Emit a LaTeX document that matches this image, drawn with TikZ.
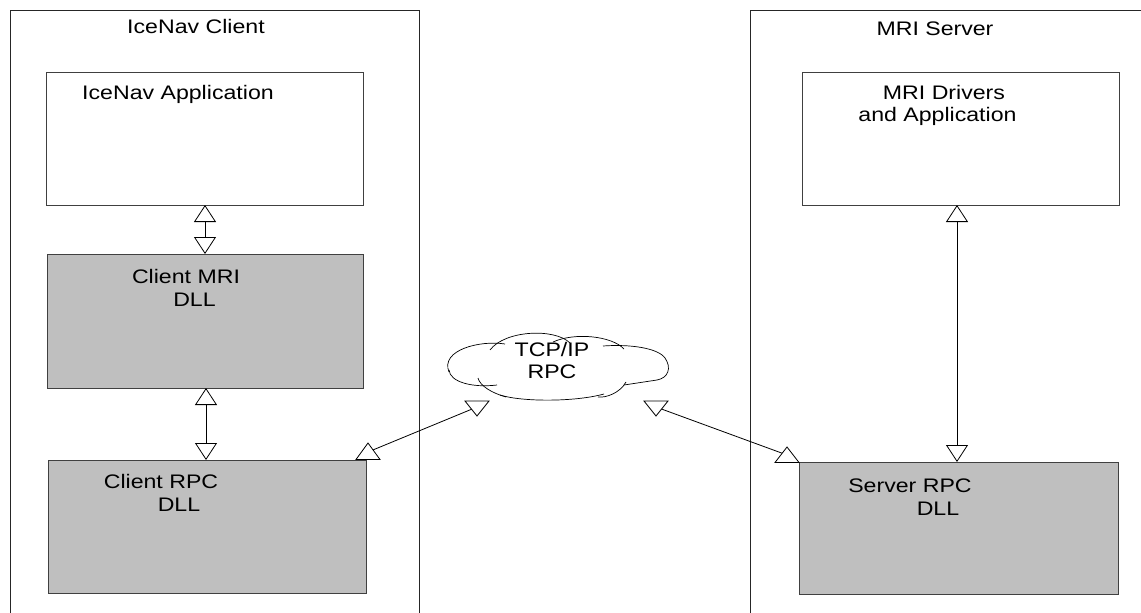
\documentclass[tikz,border=0pt]{standalone}
\usepackage{fontspec}
\setmainfont{Liberation Sans}[FakeStretch=1.18]
\usetikzlibrary{arrows.meta,shadows}

\begin{document}
\begin{tikzpicture}[x=1pt,y=-1pt,
  font=\fontsize{19.6}{22.5}\selectfont,
  frame/.style={draw=black!85,line width=0.9pt},
  block/.style={draw=black!75,line width=0.9pt,fill=white,
    drop shadow={shadow xshift=1pt,shadow yshift=-1pt,fill=black!55,opacity=1}},
  grayblock/.style={block,fill=black!25},
  lbl/.style={anchor=base,inner sep=0pt},
  link/.style={line width=0.8pt,draw=black},
  biarrow/.style={link,{Triangle[open,width=22pt,length=17pt]}-{Triangle[open,width=22pt,length=17pt]}},
  head/.style={draw=black,line width=0.8pt,fill=white},
  puff/.style={draw=black,line width=0.7pt}
]
\useasboundingbox (0,0) rectangle (1141,613);

% outer containers (open at the bottom edge)
\draw[frame] (10,625) -- (10,10) -- (419,10) -- (419,625);
\draw[frame] (750,625) -- (750,10) -- (1160,10);

\node[lbl] (tclient) at (196,33) {IceNav Client};
\node[lbl] (tserver) at (935,35) {MRI Server};

% client stack
\path[block] (46,72) rectangle (363,205);
\coordinate (app-s) at (205,205);
\node[lbl] (tapp) at (178,99) {IceNav Application};

\path[grayblock] (47,254) rectangle (363,388);
\coordinate (cmri-n) at (205,254);
\coordinate (cmri-s) at (206,388);
\node[lbl] (tcmri1) at (186,283) {Client MRI};
\node[lbl] (tcmri2) at (194.5,306) {DLL};

\path[grayblock] (48,460) rectangle (366,593);
\coordinate (crpc-n) at (206,460);
\node[lbl] (tcrpc1) at (161,488) {Client RPC};
\node[lbl] (tcrpc2) at (179,511) {DLL};

% server stack
\path[block] (802,72) rectangle (1119,205);
\coordinate (drv-s) at (957,205);
\node[lbl] (tdrv1) at (944,99) {MRI Drivers};
\node[lbl] (tdrv2) at (937.5,121) {and Application};

\path[grayblock] (799,462) rectangle (1118,594);
\coordinate (srpc-n) at (957,462);
\node[lbl] (tsrpc1) at (910,492) {Server RPC};
\node[lbl] (tsrpc2) at (938,515) {DLL};

% network cloud: white body, then overlapping puff arcs
\fill[white] (449,372) .. controls (440,350) and (480,340) .. (505,344)
  .. controls (520,330) and (555,330) .. (570,342)
  .. controls (590,333) and (615,338) .. (625,347)
  .. controls (645,346) and (660,350) .. (665,358)
  .. controls (672,368) and (668,378) .. (657,380)
  -- (627,384) .. controls (620,393) and (605,398) .. (598,397)
  .. controls (570,402) and (520,402) .. (500,395)
  .. controls (490,392) and (482,388) .. (480,384)
  .. controls (465,388) and (450,382) .. (449,372) -- cycle;
\draw[puff] (449,372) .. controls (440,350) and (480,340) .. (505,344);
\draw[puff] (490,350) .. controls (505,330) and (555,328) .. (570,343);
\draw[puff] (553,342) .. controls (575,332) and (612,336) .. (624,349);
\draw[puff] (603,346) .. controls (630,344) and (658,348) .. (665,358)
  .. controls (672,368) and (668,378) .. (657,380);
\draw[puff] (657,380) -- (624,385);
\draw[puff] (626,382) .. controls (620,393) and (606,398) .. (598,397);
\draw[puff] (604,394) .. controls (575,402) and (522,402) .. (500,395);
\draw[puff] (506,397) .. controls (492,393) and (480,386) .. (478,378);
\draw[puff] (497,385) .. controls (472,388) and (450,382) .. (449,370);
\node[lbl] (tnet1) at (552,356) {TCP/IP};
\node[lbl] (tnet2) at (552,378) {RPC};

% vertical links
\draw[biarrow] (app-s) -- (cmri-n);
\draw[biarrow] (cmri-s) -- (crpc-n);
\draw[biarrow] (drv-s) -- (srpc-n);

% slanted links to the cloud with upright heads
\coordinate (lA) at (368,452);
\coordinate (lB) at (477,407);
\coordinate (rA) at (656,407);
\coordinate (rB) at (787,455);
\draw[link] (lA) -- (lB);
\draw[link] (rA) -- (rB);
\draw[head] (368,443) -- (380,459.5) -- (356,459.5) -- cycle;
\draw[head] (465,401) -- (489,401) -- (477,416) -- cycle;
\draw[head] (644,401) -- (668,401) -- (656,416) -- cycle;
\draw[head] (787,447) -- (799,462.5) -- (775,462.5) -- cycle;
\end{tikzpicture}
\end{document}
